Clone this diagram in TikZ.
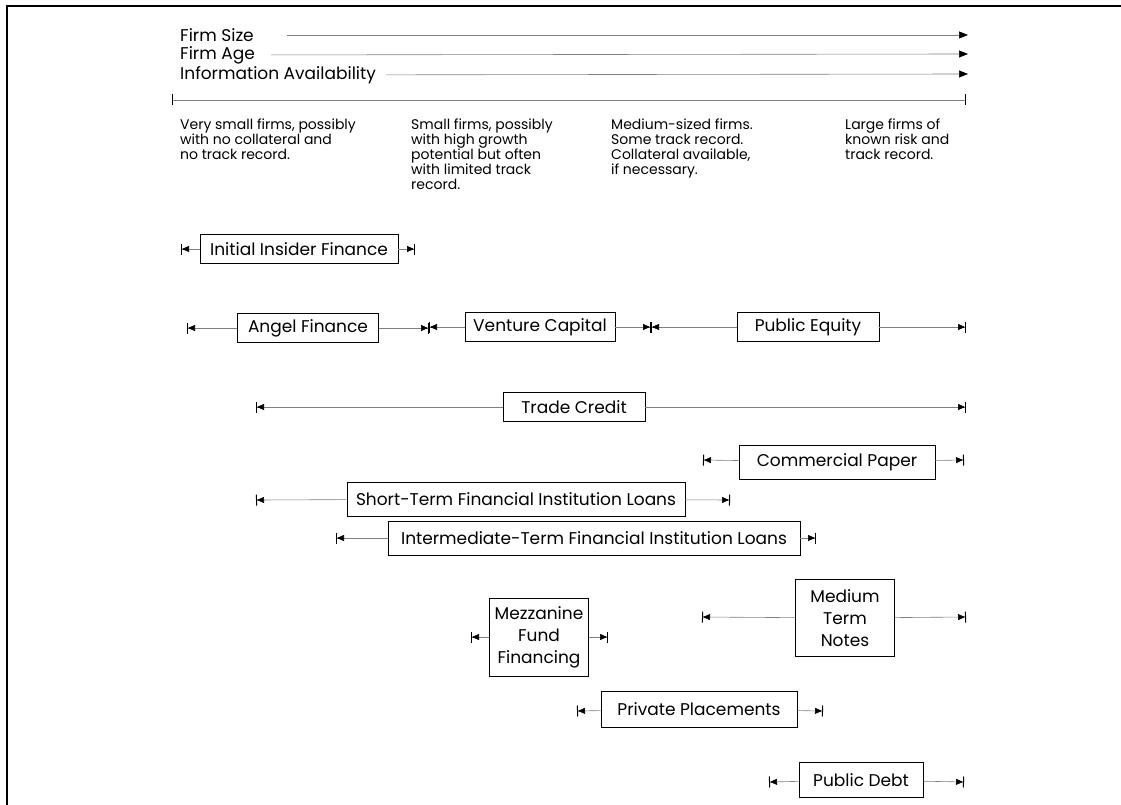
\documentclass[tikz,border=0pt]{standalone}
\usepackage{fontspec}
\setmainfont{Poppins}
\usetikzlibrary{arrows.meta}

\begin{document}
\begin{tikzpicture}[x=1pt,y=-1pt,
    box/.style={draw,line width=0.8pt,inner sep=0pt,minimum height=29pt,font=\fontsize{17}{22}\selectfont},
    span/.style={draw=gray,line width=0.6pt,-{Triangle[length=7pt,width=6pt,black,sep=0pt]Bar[width=11pt,black,line width=1pt]}},
    trend/.style={draw=gray,line width=0.6pt,-{Triangle[length=9pt,width=7pt,black]}},
    head/.style={anchor=west,inner sep=0pt,font=\fontsize{17}{19}\selectfont},
    note/.style={anchor=north west,inner sep=0pt,align=left,font=\fontsize{14}{15}\selectfont}]

        \useasboundingbox (0,0) rectangle (1121,805);
        \draw[line width=1.6pt] (7,805) -- (7,6) -- (1121,6);

        \node[head] (size) at (180,35) {Firm Size};
        \node[head] (age) at (180,55) {Firm Age};
        \node[head] (info) at (180,75) {Information Availability};
        \coordinate (size_e) at (968,35);
        \coordinate (age_e) at (968,54);
        \coordinate (info_e) at (968,74);
        \path[trend] (size) edge[shorten <=33pt] (size_e)
        (age) edge[shorten <=16pt] (age_e)
        (info) edge[shorten <=10pt] (info_e);

        \coordinate (bar_l) at (172,100);
        \coordinate (bar_r) at (966,100);
        \draw[gray,line width=0.8pt,{Bar[width=11pt,black,line width=1.2pt]}-{Bar[width=11pt,black,line width=1.2pt]}] (bar_l) -- (bar_r);

        \node[note] (d_1) at (180,119) {Very small firms, possibly\\with no collateral and\\no track record.};
        \node[note] (d_2) at (411,119) {Small firms, possibly\\with high growth\\potential but often\\with limited track\\record.};
        \node[note] (d_3) at (611,119) {Medium-sized firms.\\Some track record.\\Collateral available,\\if necessary.};
        \node[note] (d_4) at (845,119) {Large firms of\\known risk and\\track record.};

        \node[box,minimum width=198pt] (ins) at (299,249) {Initial Insider Finance};
        \node[box,minimum width=141pt] (ang) at (308,328) {Angel Finance};
        \node[box,minimum width=150pt] (vc) at (540,327) {Venture Capital};
        \node[box,minimum width=142pt] (peq) at (808,327) {Public Equity};
        \node[box,minimum width=142pt] (tc) at (574,407) {Trade Credit};
        \node[box,minimum width=196pt,minimum height=34pt] (cp) at (837,462) {Commercial Paper};
        \node[box,minimum width=338pt,minimum height=34pt] (stl) at (516,499) {Short-Term Financial Institution Loans};
        \node[box,minimum width=412pt,minimum height=34pt] (itl) at (594,538) {Intermediate-Term Financial Institution Loans};
        \node[box,minimum width=99pt,minimum height=78pt,align=center] (mez) at (539,637) {Mezzanine\\Fund\\Financing};
        \node[box,minimum width=99pt,minimum height=77pt,align=center] (mtn) at (845,618) {Medium\\Term\\Notes};
        \node[box,minimum width=196pt,minimum height=36pt] (pp) at (699,709) {Private Placements};
        \node[box,minimum width=124pt,minimum height=35pt] (pd) at (861,780) {Public Debt};

        \coordinate (ins_l) at (181,249);  \coordinate (ins_r) at (415,249);
        \coordinate (ang_l) at (187,328);  \coordinate (ang_r) at (429,328);
        \coordinate (vc_r) at (651,327);
        \coordinate (peq_r) at (966,327);
        \coordinate (tc_l) at (256,407);   \coordinate (tc_r) at (966,407);
        \coordinate (cp_l) at (703,460);   \coordinate (cp_r) at (964,460);
        \coordinate (stl_l) at (256,500);  \coordinate (stl_r) at (730,500);
        \coordinate (itl_l) at (336,538);  \coordinate (itl_r) at (816,538);
        \coordinate (mez_l) at (471,637);  \coordinate (mez_r) at (608,637);
        \coordinate (mtn_l) at (702,617);  \coordinate (mtn_r) at (966,617);
        \coordinate (pp_l) at (577,711);   \coordinate (pp_r) at (823,711);
        \coordinate (pd_l) at (769,782);   \coordinate (pd_r) at (964,782);

        \path[span] (ins) edge (ins_l) edge (ins_r)
        (ang) edge (ang_l) edge (ang_r)
        (vc) edge (ang_r |- vc) edge (vc_r)
        (peq) edge (vc_r |- peq) edge (peq_r)
        (tc) edge (tc_l) edge (tc_r)
        (cp) edge (cp_l) edge (cp_r)
        (stl) edge (stl_l) edge (stl_r)
        (itl) edge (itl_l) edge (itl_r)
        (mez) edge (mez_l) edge (mez_r)
        (mtn) edge (mtn_l) edge (mtn_r)
        (pp) edge (pp_l) edge (pp_r)
        (pd) edge (pd_l) edge (pd_r);

    \end{tikzpicture}
\end{document}
